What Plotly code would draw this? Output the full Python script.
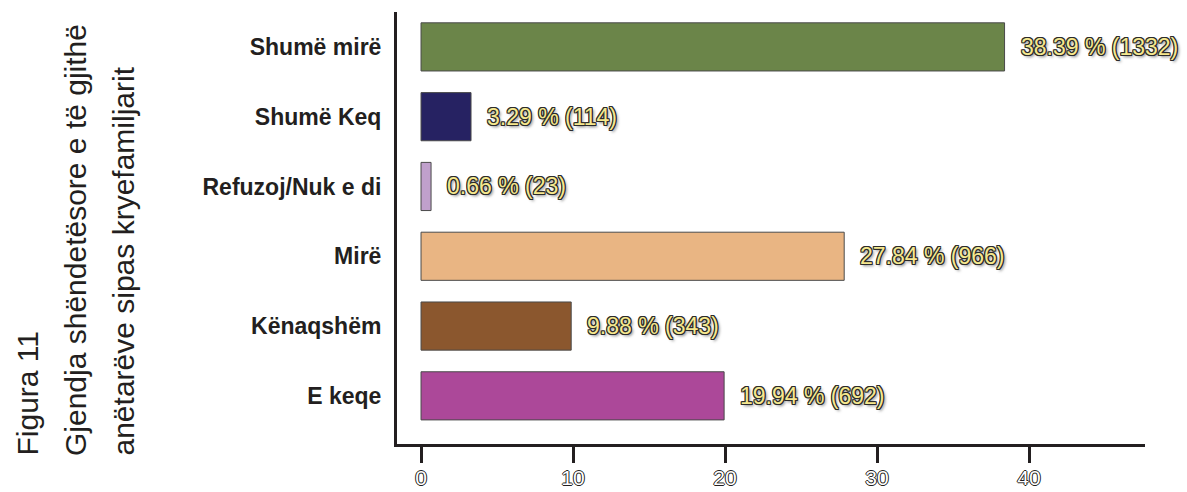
import plotly.graph_objects as go

categories = ["Shumë mirë", "Shumë Keq", "Refuzoj/Nuk e di", "Mirë", "Kënaqshëm", "E keqe"]
percent = [38.39, 3.29, 0.66, 27.84, 9.88, 19.94]
counts = [1332, 114, 23, 966, 343, 692]
colors = ["#6b8549", "#262262", "#c0a0cc", "#e9b583", "#8b572e", "#ac4899"]
x_ticks = [0, 10, 20, 30, 40]
title_lines = ["Figura 11", "Gjendja shëndetësore e të gjithë", "anëtarëve sipas kryefamiljarit"]

W, H = 1187, 492
ML, MR, MT, MB = 397, 42, 12, 48
PW, PH = W - ML - MR, H - MT - MB

fig = go.Figure()
fig.add_trace(go.Bar(
    x=percent, y=categories, orientation="h",
    marker=dict(color=colors, line=dict(color="#4a4a4a", width=1)),
    width=0.69, hoverinfo="skip", showlegend=False,
))

label_shadow = ("1px 1px 0 #2b2b2b, -1px -1px 0 #2b2b2b, 1px -1px 0 #2b2b2b, -1px 1px 0 #2b2b2b, "
                "0 1px 0 #2b2b2b, 1px 0 0 #2b2b2b, 0 -1px 0 #2b2b2b, -1px 0 0 #2b2b2b, 2px 2px 3px #777")
annotations = []
for c, p, n in zip(categories, percent, counts):
    annotations.append(dict(
        x=p, y=c, xref="x", yref="y", text=f"{p:.2f} % ({n})", showarrow=False,
        xanchor="left", yanchor="middle", xshift=14,
        font=dict(family="Liberation Sans, Arial, sans-serif", size=23, color="#f6e88e",
                  shadow=label_shadow),
    ))

# rotated title lines on the left
title_x_px = [27, 75, 123]
for line, xp in zip(title_lines, title_x_px):
    annotations.append(dict(
        x=(xp - ML) / PW, y=(H - MB - 458) / PH, xref="paper", yref="paper",
        text=line, showarrow=False, textangle=-90,
        xanchor="center", yanchor="bottom",
        font=dict(family="Liberation Sans, Arial, sans-serif", size=30, color="#231f20"),
    ))

tick_shadow = "1px 0 0 #231f20, -1px 0 0 #231f20, 0 1px 0 #231f20, 0 -1px 0 #231f20"

fig.update_layout(
    template="none",
    width=W, height=H,
    margin=dict(l=ML, r=MR, t=MT, b=MB, pad=0),
    paper_bgcolor="white", plot_bgcolor="white",
    annotations=annotations,
    xaxis=dict(
        range=[-1.58, 47.63], tickvals=x_ticks, ticktext=[str(v) for v in x_ticks],
        showgrid=False, zeroline=False, automargin=False,
        showline=True, linewidth=3, linecolor="#231f20",
        ticks="outside", ticklen=16, tickwidth=3, tickcolor="#231f20",
        ticklabelstandoff=-3,
        tickfont=dict(family="Liberation Sans, Arial, sans-serif", size=21, color="white",
                      shadow=tick_shadow),
        fixedrange=True,
    ),
    yaxis=dict(
        categoryorder="array", categoryarray=categories,
        range=[5.69, -0.5], automargin=False,
        showgrid=False, zeroline=False,
        showline=True, linewidth=3, linecolor="#231f20",
        ticks="", ticklabelstandoff=8,
        tickfont=dict(family="Liberation Sans, Arial, sans-serif", size=23, color="#231f20",
                      weight="bold"),
        fixedrange=True,
    ),
)

fig.write_html("out.html", config={"displayModeBar": False})
